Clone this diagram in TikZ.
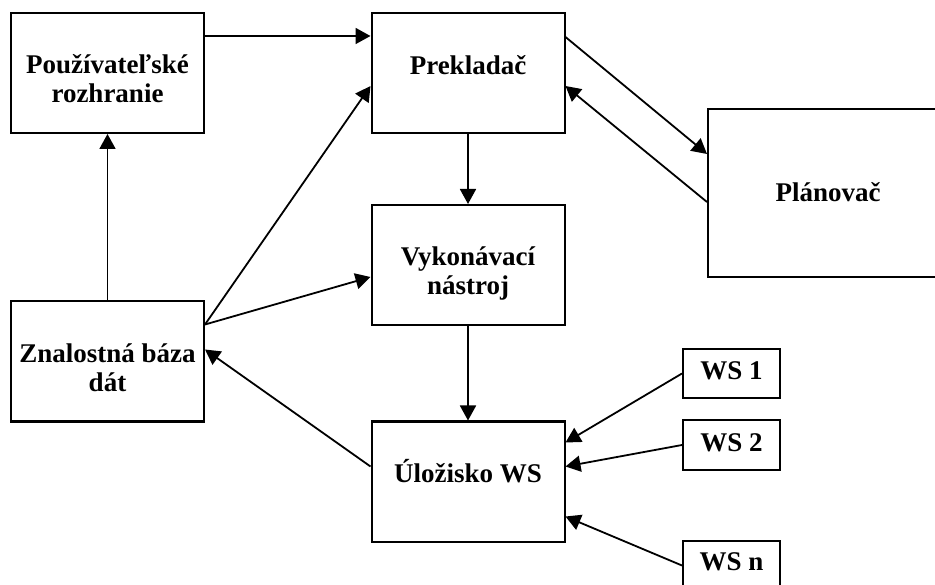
\documentclass[tikz,border=0pt]{standalone}
\usepackage{fontspec}
\setmainfont{Liberation Serif}
\usetikzlibrary{arrows.meta,calc}

\tikzset{
  box/.style={draw, line width=2pt, minimum width=193pt, minimum height=120pt, inner sep=0pt},
  wsbox/.style={draw, line width=2pt, minimum width=97pt, minimum height=49pt, inner sep=0pt},
  lbl/.style={align=center, inner sep=0pt, font=\fontsize{27}{29}\selectfont\bfseries},
  link/.style={line width=1.8pt, -{Triangle[length=15pt,width=16pt]}},
}

\begin{document}
\begin{tikzpicture}[x=1pt,y=-1pt]
  \useasboundingbox (0,0) rectangle (935,585);
  \clip (0,0) rectangle (935,585);

  % main blocks
  \node[box] (pu)   at (107.5,73)  {};
  \node[box] (prek) at (468,73)    {};
  \node[box] (vyk)  at (468,265)   {};
  \node[box] (zn)   at (107.5,361.5) {};
  \node[box] (ulo)  at (468,481.5) {};
  \node[box, minimum width=240pt, minimum height=168pt] (plan) at (828,193) {};

  % web services
  \node[wsbox] (ws1) at (731.5,373.5) {};
  \node[wsbox] (ws2) at (731.5,445)   {};
  \node[wsbox] (wsn) at (731.5,565.5) {};

  % labels
  \node[lbl] (pu-t)   at (107.5,79) {Používateľské\\rozhranie};
  \node[lbl] (prek-t) at (468,65)   {Prekladač};
  \node[lbl] (vyk-t)  at (468,273)  {Vykonávací\\nástroj};
  \node[lbl] (zn-t)   at (107.5,368) {Znalostná báza\\dát};
  \node[lbl] (ulo-t)  at (468,471)  {Úložisko WS};
  \node[lbl] (plan-t) at (828,192)  {Plánovač};
  \node[lbl] (ws1-t)  at (731.5,371) {WS 1};
  \node[lbl] (ws2-t)  at (731.5,443) {WS 2};
  \node[lbl] (wsn-t)  at (731.5,562) {WS n};

  % connectors
  \draw[link] ($(pu.north east)+(0,24)$) -- ($(prek.north west)+(0,24)$);
  \draw[link] (zn.north) -- (pu.south);
  \draw[link] ($(zn.north east)+(0,24)$) -- ($(prek.north west)+(0,74)$);
  \draw[link] ($(zn.north east)+(0,24)$) -- ($(vyk.north west)+(0,73)$);
  \draw[link] (prek.south) -- (vyk.north);
  \draw[link] ($(prek.north east)+(0,25)$) -- ($(plan.north west)+(0,46)$);
  \draw[link] ($(plan.north west)+(0,94)$) -- ($(prek.north east)+(0,74)$);
  \draw[link] (vyk.south) -- (ulo.north);
  \draw[link] ($(ulo.north west)+(0,46)$) -- ($(zn.north east)+(0,49)$);
  \draw[link] (ws1.west) -- ($(ulo.north east)+(0,22)$);
  \draw[link] (ws2.west) -- ($(ulo.north east)+(0,46)$);
  \draw[link] (wsn.west) -- ($(ulo.north east)+(0,96)$);
\end{tikzpicture}
\end{document}
